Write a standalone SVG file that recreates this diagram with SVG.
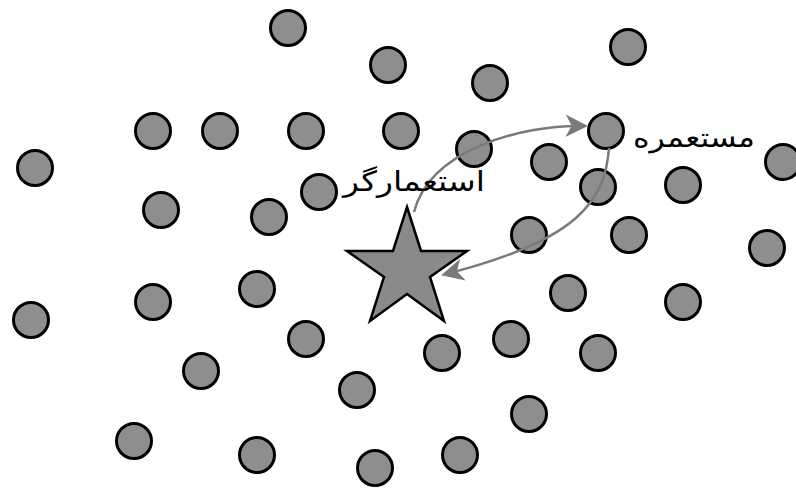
<svg xmlns="http://www.w3.org/2000/svg" width="796" height="488" viewBox="0 0 796 488">
<style>
.c{fill:#8e8e8e;stroke:#000;stroke-width:3}
.a{fill:none;stroke:#7a7a7a;stroke-width:2.5}
.t{font-family:"DejaVu Sans",sans-serif;fill:#000}
</style>
<defs>
<marker id="ah" markerWidth="9" markerHeight="9" refX="7" refY="4.5" orient="auto" markerUnits="strokeWidth">
<path d="M0,0 L9,4.5 L0,9 L2.5,4.5 Z" fill="#7a7a7a"/>
</marker>
</defs>
<rect width="796" height="488" fill="#fff"/>
<g id="nodes">
<circle class="c" cx="288" cy="28" r="17.5"/>
<circle class="c" cx="388" cy="65" r="17.5"/>
<circle class="c" cx="490" cy="83" r="17.5"/>
<circle class="c" cx="628" cy="47" r="17.5"/>
<circle class="c" cx="153" cy="131" r="17.5"/>
<circle class="c" cx="220" cy="131" r="17.5"/>
<circle class="c" cx="306" cy="131" r="17.5"/>
<circle class="c" cx="401" cy="131" r="17.5"/>
<circle class="c" cx="474" cy="149" r="17.5"/>
<circle class="c" cx="606" cy="131" r="17.5"/>
<circle class="c" cx="549" cy="162" r="17.5"/>
<circle class="c" cx="35" cy="168" r="17.5"/>
<circle class="c" cx="783" cy="162" r="17.5"/>
<circle class="c" cx="319" cy="192" r="17.5"/>
<circle class="c" cx="161" cy="210" r="17.5"/>
<circle class="c" cx="269" cy="217" r="17.5"/>
<circle class="c" cx="598" cy="187" r="17.5"/>
<circle class="c" cx="683" cy="185" r="17.5"/>
<circle class="c" cx="529" cy="235" r="17.5"/>
<circle class="c" cx="629" cy="235" r="17.5"/>
<circle class="c" cx="767" cy="248" r="17.5"/>
<circle class="c" cx="257" cy="289" r="17.5"/>
<circle class="c" cx="153" cy="302" r="17.5"/>
<circle class="c" cx="31" cy="320" r="17.5"/>
<circle class="c" cx="568" cy="293" r="17.5"/>
<circle class="c" cx="683" cy="302" r="17.5"/>
<circle class="c" cx="306" cy="339" r="17.5"/>
<circle class="c" cx="442" cy="353" r="17.5"/>
<circle class="c" cx="511" cy="339" r="17.5"/>
<circle class="c" cx="598" cy="353" r="17.5"/>
<circle class="c" cx="201" cy="371" r="17.5"/>
<circle class="c" cx="357" cy="390" r="17.5"/>
<circle class="c" cx="529" cy="414" r="17.5"/>
<circle class="c" cx="134" cy="441" r="17.5"/>
<circle class="c" cx="257" cy="455" r="17.5"/>
<circle class="c" cx="460" cy="455" r="17.5"/>
<circle class="c" cx="375" cy="468" r="17.5"/>
</g>
<g id="star">
<polygon points="407,207 421,251 467,251 430,277 444,321 407,294 370,321 384,277 347,251 393,251" fill="#8a8a8a" stroke="#000" stroke-width="2.5" stroke-linejoin="miter"/>
</g>
<g id="connectors">
<path class="a" d="M414,212 C430,150 520,125 583,126" marker-end="url(#ah)"/>
<path class="a" d="M609,148 C605,200 580,240 446,274" marker-end="url(#ah)"/>
</g>
<g id="labels">
<text class="t" x="485" y="191" font-size="28" text-anchor="start" direction="rtl" textLength="142" lengthAdjust="spacingAndGlyphs">استعمارگر</text>
<text class="t" x="755" y="147" font-size="27" text-anchor="start" direction="rtl" textLength="122" lengthAdjust="spacingAndGlyphs">مستعمره</text>
</g>
</svg>
